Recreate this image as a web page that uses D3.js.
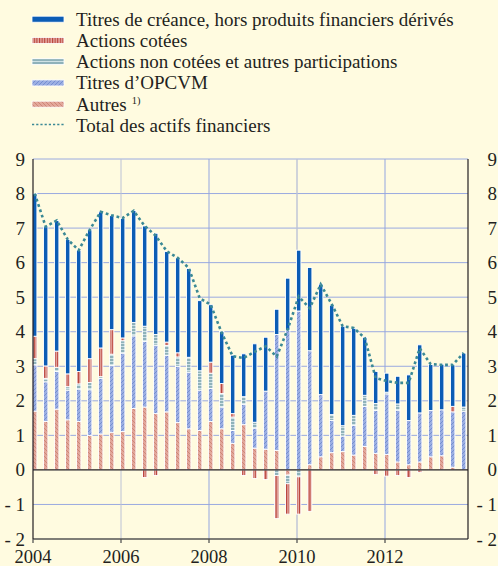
<!DOCTYPE html>
<html><head><meta charset="utf-8">
<script src="https://cdn.jsdelivr.net/npm/d3@7"></script>
<style>body{margin:0;background:#fffbe0}svg{display:block}text{font-family:"Liberation Serif","Times New Roman",serif}</style>
</head><body><svg id="c" width="498" height="566"></svg>
<script>
// ---- DATA ----
const quarters = [
 "2004T1","2004T2","2004T3","2004T4","2005T1","2005T2","2005T3","2005T4",
 "2006T1","2006T2","2006T3","2006T4","2007T1","2007T2","2007T3","2007T4",
 "2008T1","2008T2","2008T3","2008T4","2009T1","2009T2","2009T3","2009T4",
 "2010T1","2010T2","2010T3","2010T4","2011T1","2011T2","2011T3","2011T4",
 "2012T1","2012T2","2012T3","2012T4","2013T1","2013T2","2013T3","2013T4"];
const titresCreance = [4.13,4.03,3.78,3.89,3.51,3.73,3.94,3.30,3.46,3.24,2.90,2.93,2.62,2.75,2.57,2.03,1.66,1.51,1.69,1.24,
 2.27,1.56,0.73,1.51,1.76,2.41,3.20,3.17,2.88,2.52,1.68,0.93,0.55,0.80,1.32,1.97,1.33,1.32,1.20,1.56];
const actionsCotees = [0.65,0.36,0.47,0.37,0.36,0.69,0.83,0.71,0.08,0,-0.22,-0.16,0.10,0.12,0,0,0.32,0.29,0.10,-0.16,
 -0.25,-0.28,-1.25,-0.88,-1.08,-1.20,0,0,0,0,0,-0.13,-0.18,-0.16,-0.22,-0.07,0,0,0.16,0];
const actionsNonCotees = [0.18,0.10,0.12,0.10,0.15,0.21,0.05,0.33,0.36,0.39,0.44,0.31,0.28,0.27,0.43,0.56,0.44,0.39,0.39,0.22,
 0.17,0,-0.16,-0.25,-0.20,0,0,0.17,0.30,0.29,0.32,0.20,0.05,0.18,0,0,0,0,0,0.12];
const titresOPCVM = [1.34,1.15,1.09,0.86,0.94,1.32,1.61,1.93,2.27,2.10,1.90,1.98,1.64,1.63,1.64,1.17,0.96,0.63,0.37,0.59,
 0.58,1.68,3.36,4.04,4.60,3.30,1.80,0.93,0.45,0.86,1.16,1.24,1.75,1.50,1.28,1.42,1.34,1.33,1.60,1.70];
const autres = [1.70,1.40,1.76,1.45,1.40,1.00,1.04,1.09,1.11,1.78,1.82,1.63,1.68,1.37,1.19,1.14,1.40,1.19,0.77,1.31,
 0.63,0.60,0.56,-0.15,0,0.15,0.38,0.50,0.53,0.43,0.68,0.48,0.45,0.23,0.15,0.23,0.38,0.41,0.08,0];
const totalActifs = [8.00,7.04,7.22,6.67,6.36,6.95,7.47,7.37,7.29,7.50,7.06,6.78,6.33,6.14,5.85,4.97,4.78,3.97,3.29,3.24,
 3.42,3.58,3.28,4.07,5.02,4.68,5.37,4.80,4.16,4.11,3.82,2.66,2.57,2.52,2.52,3.52,3.06,3.04,3.04,3.39];
const yTicks = [-2,-1,0,1,2,3,4,5,6,7,8,9];
const xTicks = [2004,2006,2008,2010,2012];
const legendLabels = ["Titres de créance, hors produits financiers dérivés","Actions cotées",
 "Actions non cotées et autres participations","Titres d’OPCVM","Autres","Total des actifs financiers"];

// ---- LAYOUT ----
const svg = d3.select("#c");
const L = 33, R = 468, T = 159, B = 539;
const x = d3.scaleLinear().domain([2004, 2004 + (R - L) / 44]).range([L, R]);
const y = d3.scaleLinear().domain([-2, 9]).range([B, T]);
const ink = "#231f20";

svg.append("rect").attr("width", 498).attr("height", 566).attr("fill", "#fffbe0");

// patterns
const defs = svg.append("defs");
function pat(id, w, h, bg, draw) {
  const p = defs.append("pattern").attr("id", id).attr("patternUnits", "userSpaceOnUse")
    .attr("width", w).attr("height", h);
  p.append("rect").attr("width", w).attr("height", h).attr("fill", bg);
  draw(p);
}
pat("pCot", 2.6, 4, "#e4aaa2", p => p.append("rect").attr("x", 0).attr("width", 1.1).attr("height", 4).attr("fill", "#b8413a"));
pat("pNon", 4, 3, "#8fb2ba", p => p.append("rect").attr("y", 1.2).attr("width", 4).attr("height", 0.8).attr("fill", "#dfeef0"));
pat("pOpc", 4, 4, "#9cafe2", p => p.append("path").attr("d", "M-1,5 L5,-1 M-1,1 L1,-1 M3,5 L5,3").attr("stroke", "#6480cc").attr("stroke-width", 0.7));
pat("pAut", 4, 4, "#e2a89b", p => p.append("path").attr("d", "M-1,-1 L5,5 M3,-1 L5,1 M-1,3 L1,5").attr("stroke", "#c7766a").attr("stroke-width", 0.7));

const keys = ["autres", "opcvm", "nonCotees", "cotees", "creance"];
const fills = {creance: "#0b5cb5", cotees: "url(#pCot)", nonCotees: "url(#pNon)", opcvm: "url(#pOpc)", autres: "url(#pAut)"};

// grid
const g = svg.append("g");
yTicks.forEach(t => {
  if (t === 0 || t === -2) return;
  g.append("line").attr("x1", L).attr("x2", R).attr("y1", y(t)).attr("y2", y(t))
    .attr("stroke", "#9aaae0").attr("stroke-width", 1);
});
xTicks.slice(1).forEach(t => {
  g.append("line").attr("x1", x(t)).attr("x2", x(t)).attr("y1", T).attr("y2", B)
    .attr("stroke", (t === 2006 || t === 2010) ? "#bcc2d6" : "#93a5e0").attr("stroke-width", t === 2010 ? 1.4 : 1);
});

// data table + stack
const table = quarters.map((q, i) => ({
  t: 2004 + i * 0.25, creance: titresCreance[i], cotees: actionsCotees[i],
  nonCotees: actionsNonCotees[i], opcvm: titresOPCVM[i], autres: autres[i]
}));
const stack = d3.stack().keys(keys).offset(d3.stackOffsetDiverging)(table);
const bw = 4.4, off = 1.7;
stack.forEach(s => {
  svg.append("g").selectAll("rect").data(s.filter(d => Math.abs(d[1] - d[0]) > 0.001)).join("rect")
    .attr("x", d => x(d.data.t) + off - bw / 2)
    .attr("width", bw)
    .attr("y", d => y(Math.max(d[0], d[1])))
    .attr("height", d => Math.abs(y(d[0]) - y(d[1])))
    .attr("fill", fills[s.key])
    .attr("stroke", "#ffffff").attr("stroke-width", 0.9);
});

// axes lines
svg.append("line").attr("x1", L).attr("x2", R).attr("y1", y(0)).attr("y2", y(0)).attr("stroke", ink).attr("stroke-width", 1.3);
svg.append("line").attr("x1", L).attr("x2", R).attr("y1", B).attr("y2", B).attr("stroke", "#555").attr("stroke-width", 1.3);
svg.append("line").attr("x1", L).attr("x2", L).attr("y1", T).attr("y2", B).attr("stroke", ink).attr("stroke-width", 1.2);
svg.append("line").attr("x1", R).attr("x2", R).attr("y1", T).attr("y2", B).attr("stroke", ink).attr("stroke-width", 1.2);
xTicks.forEach(t => {
  svg.append("line").attr("x1", x(t)).attr("x2", x(t)).attr("y1", B).attr("y2", B + 4).attr("stroke", "#555").attr("stroke-width", 1.3);
});

// total line
const line = d3.line().x((d, i) => x(2004 + i * 0.25) + off).y(d => y(d));
svg.append("path").attr("d", line(totalActifs)).attr("fill", "none")
  .attr("stroke", "#3b8995").attr("stroke-width", 2.6).attr("stroke-dasharray", "2.8,2.8");

// tick labels
const fmt = d => d < 0 ? "- " + Math.abs(d) : String(d);
yTicks.forEach(t => {
  svg.append("text").attr("x", 25).attr("y", y(t) + 6.5).attr("text-anchor", "end")
    .attr("font-size", 19).attr("fill", ink).text(fmt(t));
  svg.append("text").attr("x", 497).attr("y", y(t) + 6.5).attr("text-anchor", "end")
    .attr("font-size", 19).attr("fill", ink).text(fmt(t));
});
xTicks.forEach(t => {
  svg.append("text").attr("x", x(t)).attr("y", 562.5).attr("text-anchor", "middle")
    .attr("font-size", 18.5).attr("fill", ink).text(t);
});

// legend
const lg = svg.append("g");
const sym = [fills.creance, fills.cotees, fills.nonCotees, fills.opcvm, fills.autres];
legendLabels.forEach((lab, i) => {
  const base = 25.7 + i * 21.25;
  if (i < 5) {
    lg.append("rect").attr("x", 32).attr("y", base - 9.5).attr("width", 32).attr("height", 6)
      .attr("fill", sym[i]).attr("stroke", "#fff").attr("stroke-width", 0.8);
  } else {
    lg.append("line").attr("x1", 32).attr("x2", 64).attr("y1", base - 7.5).attr("y2", base - 7.5)
      .attr("stroke", "#3b8995").attr("stroke-width", 1.6).attr("stroke-dasharray", "2.2,2");
  }
  const tx = lg.append("text").attr("x", 76).attr("y", base)
    .attr("font-size", 19).attr("fill", ink).text(lab);
  if (i === 4) tx.append("tspan").attr("dx", 5).attr("dy", -7).attr("font-size", 10.5).text("1)");
});
</script></body></html>
